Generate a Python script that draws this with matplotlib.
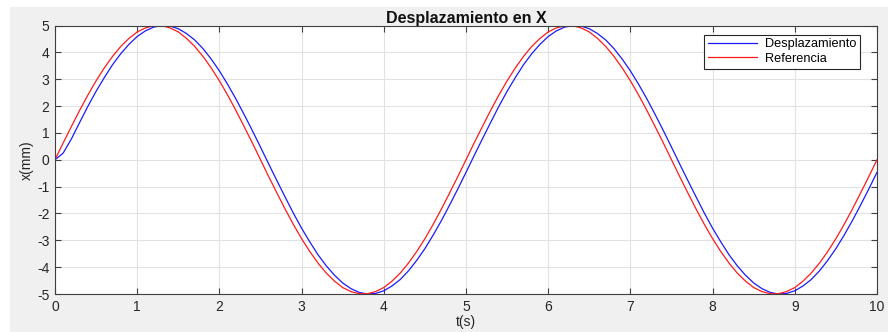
import matplotlib
matplotlib.use("Agg")
import matplotlib.pyplot as plt
from matplotlib.patches import Rectangle

plt.rcParams['font.family'] = ['Liberation Sans', 'DejaVu Sans']
plt.rcParams['axes.unicode_minus'] = False

# tiempo (s), muestras cada 0.1 s
t = [i / 10 for i in range(101)]

# valores
referencia = [0.00, 0.63, 1.24, 1.84, 2.41, 2.94, 3.42, 3.85, 4.22, 4.52,
              4.76, 4.91, 4.99, 4.99, 4.91, 4.76, 4.52, 4.22, 3.85, 3.42,
              2.94, 2.41, 1.84, 1.24, 0.63, 0.00, -0.63, -1.24, -1.84, -2.41,
              -2.94, -3.42, -3.85, -4.22, -4.52, -4.76, -4.91, -4.99, -4.99, -4.91,
              -4.76, -4.52, -4.22, -3.85, -3.42, -2.94, -2.41, -1.84, -1.24, -0.63,
              0.00, 0.63, 1.24, 1.84, 2.41, 2.94, 3.42, 3.85, 4.22, 4.52,
              4.76, 4.91, 4.99, 4.99, 4.91, 4.76, 4.52, 4.22, 3.85, 3.42,
              2.94, 2.41, 1.84, 1.24, 0.63, 0.00, -0.63, -1.24, -1.84, -2.41,
              -2.94, -3.42, -3.85, -4.22, -4.52, -4.76, -4.91, -4.99, -4.99, -4.91,
              -4.76, -4.52, -4.22, -3.85, -3.42, -2.94, -2.41, -1.84, -1.24, -0.63,
              0.00]

desplazamiento = [0.00, 0.25, 0.78, 1.39, 1.99, 2.55, 3.06, 3.54, 3.95, 4.30,
                  4.59, 4.80, 4.94, 5.00, 4.98, 4.88, 4.70, 4.46, 4.14, 3.75,
                  3.31, 2.81, 2.27, 1.69, 1.09, 0.47, -0.16, -0.78, -1.39, -1.99,
                  -2.55, -3.06, -3.54, -3.95, -4.30, -4.59, -4.80, -4.94, -5.00, -4.98,
                  -4.88, -4.70, -4.46, -4.14, -3.75, -3.31, -2.81, -2.27, -1.69, -1.09,
                  -0.47, 0.16, 0.78, 1.39, 1.99, 2.55, 3.06, 3.54, 3.95, 4.30,
                  4.59, 4.80, 4.94, 5.00, 4.98, 4.88, 4.70, 4.46, 4.14, 3.75,
                  3.31, 2.81, 2.27, 1.69, 1.09, 0.47, -0.16, -0.78, -1.39, -1.99,
                  -2.55, -3.06, -3.54, -3.95, -4.30, -4.59, -4.80, -4.94, -5.00, -4.98,
                  -4.88, -4.70, -4.46, -4.14, -3.75, -3.31, -2.81, -2.27, -1.69, -1.09,
                  -0.47]

xticks = list(range(0, 11))
yticks = list(range(-5, 6))

fig = plt.figure(figsize=(8.88, 3.32), dpi=100, facecolor='white')
# fondo gris tipo matlab
fig.patches.append(Rectangle((10 / 888, 0), 1, 1 - 7 / 332, transform=fig.transFigure,
                             facecolor='#f0f0f0', edgecolor='none', zorder=-10))

ax = fig.add_axes([55 / 888, 38 / 332, 822 / 888, 268.5 / 332])
ax.set_facecolor('white')

ax.plot(t, desplazamiento, color='#1a1aff', lw=0.9, label='Desplazamiento')
ax.plot(t, referencia, color='#ff1a1a', lw=0.9, label='Referencia')

ax.set_xlim(0, 10)
ax.set_ylim(-5, 5)
ax.set_xticks(xticks)
ax.set_yticks(yticks)
ax.grid(True, color='#e2e2e2', lw=0.8)
ax.set_axisbelow(True)

ax.tick_params(direction='in', top=True, right=True, length=4, width=0.8,
               colors='#404040', labelsize=10, labelcolor='#262626', pad=4)
for s in ax.spines.values():
    s.set_color('#404040')
    s.set_linewidth(0.8)

ax.set_title('Desplazamiento en X', fontsize=11.5, fontweight='bold', color='#111111', pad=2)
ax.set_xlabel('t(s)', fontsize=10, color='#262626', labelpad=1)
ax.set_ylabel('x(mm)', fontsize=10, color='#262626', labelpad=2)

leg = ax.legend(loc='upper right', fontsize=9.2, handlelength=3.9, borderpad=0.3,
                labelspacing=0.2, handletextpad=0.6, fancybox=False, framealpha=1,
                bbox_to_anchor=(0.9875, 0.99))
leg.get_frame().set_edgecolor('#262626')
leg.get_frame().set_linewidth(0.8)

fig.savefig('out.png', dpi=100, facecolor=fig.get_facecolor())
